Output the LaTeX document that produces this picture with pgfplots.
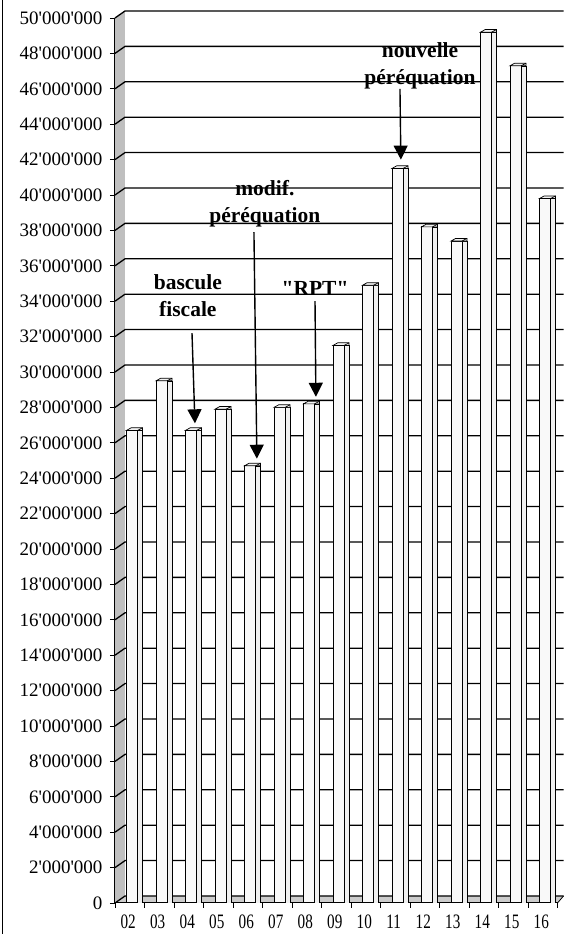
\documentclass[border=0pt]{standalone}
\usepackage{fontspec}
\setmainfont{Liberation Serif}
\newfontfamily\lser{Liberation Serif}
\usepackage{graphicx}
\usepackage{pgfplots}
\usepackage{pgfplotstable}
\pgfplotsset{compat=1.18}
\usetikzlibrary{arrows.meta}

% montants par annee (02 = 2002 ...)
\pgfplotstableread{
c v
0  26700000
1  29500000
2  26700000
3  27900000
4  24700000
5  28000000
6  28200000
7  31500000
8  34900000
9  41500000
10 38200000
11 37400000
12 49200000
13 47300000
14 39800000
}\recettes

\newcommand\hsc[1]{\scalebox{0.74}[1]{#1}}

% dessus des colonnes "3D"
\pgfdeclareplotmark{cap}{%
  \pgfpathmoveto{\pgfpoint{-3.2pt}{0pt}}%
  \pgfpathlineto{\pgfpoint{12.8pt}{0pt}}%
  \pgfpathlineto{\pgfpoint{12.8pt}{2.6pt}}%
  \pgfpathlineto{\pgfpoint{1.4pt}{2.6pt}}%
  \pgfpathclose
  \pgfusepath{fill,stroke}%
  \pgfpathmoveto{\pgfpoint{7.8pt}{0pt}}%
  \pgfpathlineto{\pgfpoint{12.8pt}{2.6pt}}%
  \pgfusepath{stroke}%
}

\begin{document}
\lser
\begin{tikzpicture}[
  ann/.style={font=\bfseries\fontsize{21.5}{27}\selectfont, align=center, inner sep=0pt},
  arr/.style={line width=1.4pt, -{Triangle[width=14pt,length=14pt]}},
]
\begin{axis}[
  set layers,
  scale only axis,
  width=442.5pt, height=885pt,
  xmin=-0.5, xmax=14.5,
  ymin=0, ymax=50000000,
  axis x line*=bottom, axis y line*=left,
  axis line style={line width=1pt},
  tick align=outside,
  major tick length=5pt,
  minor tick length=5pt,
  xtick={0,...,14},
  xticklabels={\hsc{02},\hsc{03},\hsc{04},\hsc{05},\hsc{06},\hsc{07},\hsc{08},\hsc{09},\hsc{10},\hsc{11},\hsc{12},\hsc{13},\hsc{14},\hsc{15},\hsc{16}},
  major x tick style={draw=none},
  minor xtick={-0.5,0.5,...,14.5},
  minor x tick style={black, line width=0.8pt},
  xticklabel style={font=\fontsize{20.5}{20}\selectfont, yshift=-3pt, xshift=-1.5pt},
  ytick distance=2000000,
  scaled y ticks=false,
  y tick style={black, line width=0.8pt},
  yticklabel style={/pgf/number format/.cd, fixed, precision=0, 1000 sep={'}, assume math mode=true,
    /tikz/.cd, font=\fontsize{19}{20}\selectfont, xshift=-4pt},
]
\begin{pgfonlayer}{axis background}
  % paroi gauche et sol
  \fill[gray!50] (axis cs:-0.5,0) -- ++(10pt,7pt) -- ([xshift=10pt,yshift=7pt]axis cs:-0.5,50000000)
     -- (axis cs:-0.5,50000000) -- cycle;
  \fill[gray!40] (axis cs:-0.5,0) -- (axis cs:14.5,0) -- ++(6pt,7pt)
     -- ([xshift=10pt,yshift=7pt]axis cs:-0.5,0) -- cycle;
  \draw[line width=0.8pt] (axis cs:14.5,0) -- ++(6pt,7pt);
  \pgfplotsinvokeforeach{0,2,...,50}{
    \draw[line width=1.3pt] (axis cs:-0.5,#1000000) -- ++(10pt,7pt)
       -- ([xshift=6pt,yshift=7pt]axis cs:14.5,#1000000);
  }
\end{pgfonlayer}

\addplot[ybar, bar width=5pt, bar shift=10.3pt, fill=gray!12, draw=black, line width=0.5pt]
  table[x=c, y=v] {\recettes};
\addplot[ybar, bar width=11pt, bar shift=2.3pt, fill=gray!5, draw=black, line width=1.0pt]
  table[x=c, y=v] {\recettes};
\addplot[only marks, mark=cap, mark options={fill=gray!10, draw=black, line width=0.7pt}]
  table[x=c, y=v] {\recettes};

\node[ann] at (axis cs:1.97,34300000) {bascule\\fiscale};
\draw[arr] (axis cs:2.11,32200000) -- (axis cs:2.21,27100000);
\node[ann] at (axis cs:4.58,39500000) {modif.\\péréquation};
\draw[arr] (axis cs:4.21,37900000) -- (axis cs:4.31,25100000);
\node[ann] at (axis cs:6.28,34700000) {"RPT"};
\draw[arr] (axis cs:6.28,34000000) -- (axis cs:6.31,28600000);
\node[ann] at (axis cs:9.84,47300000) {nouvelle\\péréquation};
\draw[arr] (axis cs:9.16,46000000) -- (axis cs:9.19,42000000);
\end{axis}
\draw[line width=1pt] (-112pt,-31pt) -- (-112pt,903pt);
\pgfresetboundingbox
\path (-115pt,-31pt) rectangle (452pt,903pt);
\end{tikzpicture}
\end{document}
